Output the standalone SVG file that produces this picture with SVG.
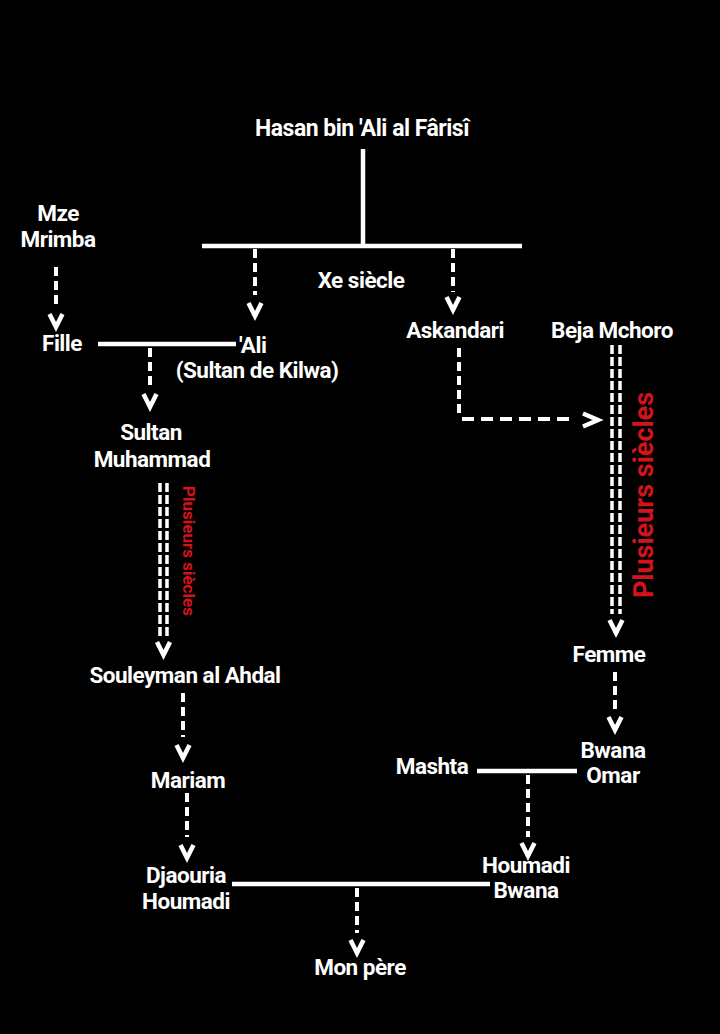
<svg xmlns="http://www.w3.org/2000/svg" xmlns:xlink="http://www.w3.org/1999/xlink" width="720" height="1034" viewBox="0 0 720 1034">
<style>
.t{font-family:Roboto,"Liberation Sans",sans-serif;font-weight:bold;font-size:22.5px;fill:#fff;text-anchor:middle;letter-spacing:-0.5px}
.r{font-family:Roboto,"Liberation Sans",sans-serif;font-weight:bold;fill:#d4121c;text-anchor:middle}
.solid{stroke:#fff;stroke-width:4.5;fill:none}
.dash{stroke:#fff;stroke-width:4;fill:none;stroke-dasharray:9 5}
.hdash{stroke:#fff;stroke-width:4;fill:none;stroke-dasharray:12 7}
.dbl{stroke:#fff;stroke-width:3.5;fill:none;stroke-dasharray:9 3}
</style>
<defs>
<path id="v" d="M-6.5,-6 L0,7 L6.5,-6" fill="none" stroke="#fff" stroke-width="4.5" stroke-linejoin="miter"/>
<path id="gt" d="M-8,-6.5 L7,0 L-8,6.5" fill="none" stroke="#fff" stroke-width="4.5" stroke-linejoin="miter"/>
</defs>
<rect x="0" y="0" width="720" height="1034" fill="#000"/>

<g id="connectors">
  <line class="solid" x1="363" y1="149" x2="363" y2="246"/>
  <line class="solid" x1="202" y1="246" x2="522" y2="246"/>
  <line class="dash" x1="255" y1="249" x2="255" y2="295"/>
  <use xlink:href="#v" x="255" y="309"/>
  <line class="dash" x1="453" y1="249" x2="453" y2="292"/>
  <use xlink:href="#v" x="453" y="303"/>
  <line class="dash" x1="56" y1="267" x2="56" y2="308"/>
  <use xlink:href="#v" x="56" y="320"/>
  <line class="solid" x1="98" y1="344" x2="236" y2="344"/>
  <line class="dash" x1="150" y1="348" x2="150" y2="387"/>
  <use xlink:href="#v" x="150" y="400"/>
  <line class="dbl" x1="160" y1="483" x2="160" y2="637"/>
  <line class="dbl" x1="167" y1="483" x2="167" y2="637"/>
  <use xlink:href="#v" x="163.5" y="648"/>
  <line class="dash" x1="183" y1="693" x2="183" y2="737"/>
  <use xlink:href="#v" x="183" y="751"/>
  <line class="dash" x1="187" y1="793" x2="187" y2="837"/>
  <use xlink:href="#v" x="187" y="851"/>
  <line class="solid" x1="232" y1="884" x2="490" y2="884"/>
  <line class="dash" x1="357" y1="888" x2="357" y2="933"/>
  <use xlink:href="#v" x="357" y="946"/>
  <line class="dash" x1="459" y1="348" x2="459" y2="417"/>
  <line class="hdash" x1="462" y1="419" x2="576" y2="419"/>
  <use xlink:href="#gt" x="591" y="420"/>
  <line class="dbl" x1="612" y1="345" x2="612" y2="614"/>
  <line class="dbl" x1="620" y1="345" x2="620" y2="614"/>
  <use xlink:href="#v" x="616" y="626"/>
  <line class="dash" x1="615" y1="672" x2="615" y2="712"/>
  <use xlink:href="#v" x="615" y="723"/>
  <line class="solid" x1="477" y1="771" x2="577" y2="771"/>
  <line class="dash" x1="528" y1="775" x2="528" y2="837"/>
  <use xlink:href="#v" x="528" y="849"/>
</g>

<g id="hasan"><text class="t" x="362" y="136" style="font-size:23px">Hasan bin 'Ali al Fârisî</text></g>
<g id="xe-siecle"><text class="t" x="361" y="288">Xe siècle</text></g>
<g id="mze-mrimba"><text class="t" x="58" y="221">Mze</text><text class="t" x="58" y="247">Mrimba</text></g>
<g id="fille"><text class="t" x="62" y="351">Fille</text></g>
<g id="ali"><text class="t" x="239" y="353" style="text-anchor:start">'Ali</text><text class="t" x="257" y="378">(Sultan de Kilwa)</text></g>
<g id="askandari"><text class="t" x="455" y="338">Askandari</text></g>
<g id="beja-mchoro"><text class="t" x="612" y="338">Beja Mchoro</text></g>
<g id="sultan-muhammad"><text class="t" x="151" y="440">Sultan</text><text class="t" x="152" y="467">Muhammad</text></g>
<g id="plusieurs-1"><text class="r" transform="translate(183,551) rotate(90)" style="font-size:17px">Plusieurs siècles</text></g>
<g id="plusieurs-2"><text class="r" transform="translate(653,495) rotate(-90)" style="font-size:27px">Plusieurs siècles</text></g>
<g id="souleyman"><text class="t" x="185" y="683">Souleyman al Ahdal</text></g>
<g id="mariam"><text class="t" x="188" y="788">Mariam</text></g>
<g id="djaouria"><text class="t" x="186" y="883">Djaouria</text><text class="t" x="186" y="909">Houmadi</text></g>
<g id="mon-pere"><text class="t" x="360" y="975">Mon père</text></g>
<g id="femme"><text class="t" x="609" y="662">Femme</text></g>
<g id="bwana-omar"><text class="t" x="613" y="758">Bwana</text><text class="t" x="613" y="783">Omar</text></g>
<g id="mashta"><text class="t" x="432" y="774">Mashta</text></g>
<g id="houmadi-bwana"><text class="t" x="526" y="873">Houmadi</text><text class="t" x="526" y="898">Bwana</text></g>
</svg>
